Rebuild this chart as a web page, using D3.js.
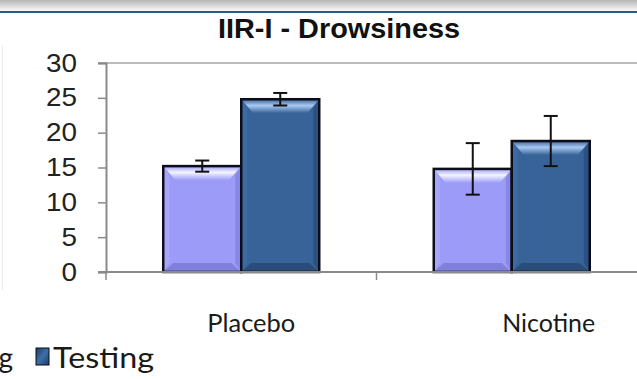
<!DOCTYPE html>
<html>
<head>
<meta charset="utf-8">
<script src="https://cdn.jsdelivr.net/npm/d3@7/dist/d3.min.js"></script>
<style>
  html, body { margin: 0; padding: 0; background: #ffffff; }
  svg { display: block; }
</style>
</head>
<body>
<svg id="chart" width="637" height="379"></svg>
<script>
// Drowsiness scores (IIR-I) per condition, mean and error
const categories = ["Placebo", "Nicotine"];
const seriesNames = ["Training", "Testing"];
const trainingValues = [15.2, 14.8];
const testingValues = [24.8, 18.8];
const trainingErrors = [0.8, 3.7];
const testingErrors = [0.9, 3.6];
const yTicks = [0, 5, 10, 15, 20, 25, 30];
const titleText = "IIR-I - Drowsiness";

const W = 637, H = 379;
const svg = d3.select("#chart");
const defs = svg.append("defs");

// Top page band with a soft grey fade and a blue rule
const band = defs.append("linearGradient").attr("id", "band")
  .attr("x1", 0).attr("y1", 0).attr("x2", 0).attr("y2", 1);
band.append("stop").attr("offset", "0%").attr("stop-color", "#b5b5b5");
band.append("stop").attr("offset", "100%").attr("stop-color", "#fafafa");
svg.append("rect").attr("x", 0).attr("y", 0).attr("width", W).attr("height", 11)
  .attr("fill", "url(#band)");
svg.append("rect").attr("x", 0).attr("y", 11).attr("width", W).attr("height", 2)
  .attr("fill", "#2c5a88");
// faint frame edge on the left
svg.append("line").attr("x1", 2.5).attr("x2", 2.5).attr("y1", 45).attr("y2", 290)
  .attr("stroke", "#ececec").attr("stroke-width", 1);

const plot = { left: 106, right: 647, top: 63, bottom: 272 };

const x0 = d3.scaleBand().domain(categories).range([plot.left, plot.right])
  .paddingInner(0).paddingOuter(0);
const x1 = d3.scaleBand().domain(seriesNames).range([0, x0.bandwidth()])
  .paddingInner(0).paddingOuter(0.734);
const y = d3.scaleLinear().domain([0, 30]).range([plot.bottom, plot.top]);

// Title
svg.append("text")
  .attr("x", 339).attr("y", 38)
  .attr("text-anchor", "middle")
  .attr("font-family", "'Liberation Sans', Arial, sans-serif")
  .attr("font-weight", "bold")
  .attr("font-size", 27)
  .attr("fill", "#111")
  .attr("textLength", 242)
  .attr("lengthAdjust", "spacingAndGlyphs")
  .text(titleText);

// Plot frame top line
svg.append("line")
  .attr("x1", plot.left - 8).attr("x2", W)
  .attr("y1", y(30)).attr("y2", y(30))
  .attr("stroke", "#a6a6a6").attr("stroke-width", 1.5);

// Y axis
const yAxis = svg.append("g")
  .attr("transform", `translate(${plot.left},0)`)
  .call(d3.axisLeft(y).tickValues(yTicks).tickSize(8).tickPadding(21).tickFormat(d3.format("d")));
yAxis.select(".domain").attr("stroke", "#8a8a8a").attr("stroke-width", 2);
yAxis.selectAll(".tick line").attr("stroke", "#8a8a8a").attr("stroke-width", 1.5);
yAxis.selectAll(".tick text")
  .attr("font-family", "'Liberation Sans', Arial, sans-serif")
  .attr("font-size", 25)
  .attr("fill", "#222")
  .attr("textLength", d => String(d).length * 15.5)
  .attr("lengthAdjust", "spacingAndGlyphs");

// Series styling: base, highlight, side and bottom bevel tones
const styles = {
  Training: { base: "#9c9cf8", hi: "#f4f4ff", side: "#8787e6", low: "#8080dc", left: "#a6a6fb" },
  Testing:  { base: "#386398", hi: "#a8c8f2", side: "#2b5183", low: "#2a4c78", left: "#3d6aa0" }
};
seriesNames.forEach(s => {
  const g = defs.append("linearGradient").attr("id", "hi-" + s)
    .attr("x1", 0).attr("y1", 0).attr("x2", 0).attr("y2", 1);
  g.append("stop").attr("offset", "0%").attr("stop-color", styles[s].base);
  g.append("stop").attr("offset", "45%").attr("stop-color", styles[s].hi);
  g.append("stop").attr("offset", "100%").attr("stop-color", styles[s].base);
});

const rows = [];
categories.forEach((c, i) => {
  rows.push({ cat: c, series: "Training", value: trainingValues[i], err: trainingErrors[i] });
  rows.push({ cat: c, series: "Testing", value: testingValues[i], err: testingErrors[i] });
});

const bars = svg.append("g");
rows.forEach(d => {
  const bx = x0(d.cat) + x1(d.series);
  const bw = x1.bandwidth();
  const by = y(d.value);
  const bh = y(0) - by;
  const st = styles[d.series];
  const b = 9, sb = 6;
  const g = bars.append("g");
  g.append("rect").attr("x", bx).attr("y", by).attr("width", bw).attr("height", bh).attr("fill", st.base);
  // left bevel
  g.append("polygon").attr("points",
    [[bx, by], [bx + sb, by + b], [bx + sb, by + bh - b], [bx, by + bh]].join(" ")).attr("fill", st.left);
  // right bevel
  g.append("polygon").attr("points",
    [[bx + bw, by], [bx + bw, by + bh], [bx + bw - sb, by + bh - b], [bx + bw - sb, by + b]].join(" ")).attr("fill", st.side);
  // bottom bevel
  g.append("polygon").attr("points",
    [[bx, by + bh], [bx + bw, by + bh], [bx + bw - sb - 4, by + bh - b], [bx + sb + 4, by + bh - b]].join(" ")).attr("fill", st.low);
  // top highlight bevel
  g.append("polygon").attr("points",
    [[bx, by], [bx + bw, by], [bx + bw - sb - 6, by + b + 5], [bx + sb + 6, by + b + 5]].join(" ")).attr("fill", `url(#hi-${d.series})`);
  g.append("rect").attr("x", bx).attr("y", by).attr("width", bw).attr("height", bh)
    .attr("fill", "none").attr("stroke", "#0d0d1a").attr("stroke-width", 2.5);
});

// X axis baseline with ticks at the category boundaries
svg.append("line")
  .attr("x1", plot.left - 8).attr("x2", W)
  .attr("y1", y(0)).attr("y2", y(0))
  .attr("stroke", "#8a8a8a").attr("stroke-width", 2);
categories.forEach(c => {
  svg.append("line")
    .attr("x1", x0(c)).attr("x2", x0(c))
    .attr("y1", y(0)).attr("y2", y(0) + 8)
    .attr("stroke", "#8a8a8a").attr("stroke-width", 1.5);
});

// Error bars
const eb = svg.append("g").attr("stroke", "#111").attr("stroke-width", 2);
rows.forEach(d => {
  const cx = x0(d.cat) + x1(d.series) + x1.bandwidth() / 2;
  const yt = y(d.value + d.err), yb = y(d.value - d.err);
  eb.append("line").attr("x1", cx).attr("x2", cx).attr("y1", yt).attr("y2", yb);
  eb.append("line").attr("x1", cx - 7).attr("x2", cx + 7).attr("y1", yt).attr("y2", yt);
  eb.append("line").attr("x1", cx - 7).attr("x2", cx + 7).attr("y1", yb).attr("y2", yb);
});

// Category labels
const labelShift = { Placebo: 10, Nicotine: 37 };
const labelWidth = { Placebo: 88, Nicotine: 93 };
categories.forEach(c => {
  svg.append("text")
    .attr("x", x0(c) + x0.bandwidth() / 2 + labelShift[c])
    .attr("y", 332)
    .attr("text-anchor", "middle")
    .attr("font-family", "Lato, 'Open Sans', sans-serif")
    .attr("font-size", 25)
    .attr("fill", "#1a1a1a")
    .attr("textLength", labelWidth[c])
    .attr("lengthAdjust", "spacingAndGlyphs")
    .text(c);
});

// Legend: the first entry runs past the left edge of the page
const lg = defs.append("linearGradient").attr("id", "lg-Testing")
  .attr("x1", 0).attr("y1", 0).attr("x2", 1).attr("y2", 1);
lg.append("stop").attr("offset", "0%").attr("stop-color", "#1d3d66");
lg.append("stop").attr("offset", "50%").attr("stop-color", "#3f6fa8");
lg.append("stop").attr("offset", "100%").attr("stop-color", "#1d3d66");

svg.append("rect").attr("x", -108).attr("y", 348).attr("width", 13).attr("height", 17)
  .attr("fill", styles.Training.base).attr("stroke", "#0d0d1a").attr("stroke-width", 1);
svg.append("text")
  .attr("x", 13).attr("y", 368)
  .attr("text-anchor", "end")
  .attr("font-family", "Lato, 'Open Sans', sans-serif")
  .attr("font-size", 28)
  .attr("fill", "#1a1a1a")
  .text(seriesNames[0]);

svg.append("rect").attr("x", 36).attr("y", 348).attr("width", 13).attr("height", 17)
  .attr("fill", "url(#lg-Testing)").attr("stroke", "#0d0d1a").attr("stroke-width", 1);
svg.append("text")
  .attr("x", 53).attr("y", 368)
  .attr("font-family", "Lato, 'Open Sans', sans-serif")
  .attr("font-size", 28)
  .attr("fill", "#1a1a1a")
  .attr("textLength", 101)
  .attr("lengthAdjust", "spacingAndGlyphs")
  .text(seriesNames[1]);
</script>
</body>
</html>
